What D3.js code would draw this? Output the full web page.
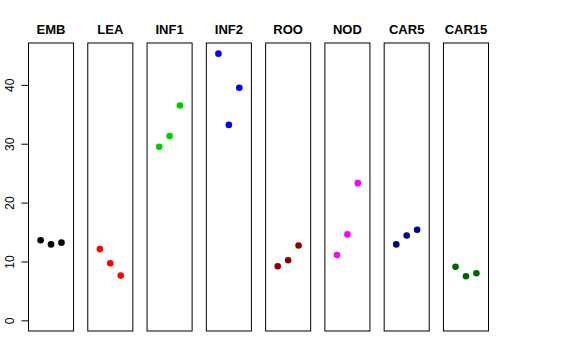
<!DOCTYPE html>
<html>
<head>
<meta charset="utf-8">
<script src="https://cdn.jsdelivr.net/npm/d3@7"></script>
<style>
  body { margin: 0; background: #fff; }
  svg { display: block; font-family: "Liberation Sans", Arial, sans-serif; }
</style>
</head>
<body>
<figure id="chart" style="margin:0"></figure>
<script>
// tissues, one panel each
var tissues = ["EMB", "LEA", "INF1", "INF2", "ROO", "NOD", "CAR5", "CAR15"];
var colors = ["#000000", "#FF0000", "#00CD00", "#0000FF", "#8B0000", "#FF00FF", "#00008B", "#006400"];
// three replicate values per tissue
var rep1 = [13.6, 12.1, 29.5, 45.3, 9.2, 11.1, 12.9, 9.1];
var rep2 = [12.9, 9.7, 31.3, 33.2, 10.2, 14.6, 14.4, 7.5];
var rep3 = [13.2, 7.6, 36.5, 39.5, 12.7, 23.3, 15.4, 8.0];
var yTicks = [0, 10, 20, 30, 40];

var width = 576, height = 360;

var svg = d3.select("figure#chart")
  .append("svg")
  .attr("width", width)
  .attr("height", height);

var panel = d3.scaleBand()
  .domain(tissues)
  .range([28.5, 488.5])
  .paddingInner(0.24)
  .paddingOuter(0);

var ymax = d3.max(rep1.concat(rep2, rep3));
var pad = ymax * 0.04;
var yScale = d3.scaleLinear()
  .domain([-pad, ymax + pad])
  .range([331, 43]);

var xScale = d3.scaleLinear()
  .domain([-0.16, 4.16])
  .range([0, panel.bandwidth()]);

var data = tissues.map(function (t, i) {
  return { tissue: t, color: colors[i], vals: [rep1[i], rep2[i], rep3[i]] };
});

var panels = svg.selectAll("g.panel")
  .data(data)
  .enter()
  .append("g")
  .attr("class", "panel")
  .attr("transform", d => `translate(${panel(d.tissue)},0)`);

panels.append("rect")
  .attr("x", 0)
  .attr("y", yScale(ymax + pad))
  .attr("width", panel.bandwidth())
  .attr("height", yScale(-pad) - yScale(ymax + pad))
  .attr("fill", "none")
  .attr("stroke", "#000")
  .attr("stroke-width", 1);

panels.append("text")
  .attr("x", panel.bandwidth() / 2)
  .attr("y", 34)
  .attr("text-anchor", "middle")
  .style("font-weight", "bold")
  .style("font-size", "13px")
  .text(d => d.tissue);

panels.selectAll("circle")
  .data(d => d.vals.map(v => ({ v: v, color: d.color })))
  .enter()
  .append("circle")
  .attr("cx", (d, i) => xScale(i + 1))
  .attr("cy", d => yScale(d.v))
  .attr("r", 3.3)
  .attr("fill", d => d.color);

// y axis on the left of the first panel
var yAxis = svg.append("g")
  .attr("class", "y axis")
  .attr("transform", `translate(${panel(tissues[0])},0)`)
  .call(d3.axisLeft(yScale).tickValues(yTicks).tickSize(7).tickSizeOuter(0));

yAxis.select(".domain").remove();
yAxis.append("line")
  .attr("y1", yScale(0))
  .attr("y2", yScale(40))
  .attr("stroke", "#000");

yAxis.selectAll("text")
  .attr("transform", "rotate(-90)")
  .attr("x", 0)
  .attr("y", -15)
  .attr("dy", 0)
  .attr("text-anchor", "middle")
  .attr("fill", "#000")
  .style("font-size", "12px")
  .style("font-family", "Liberation Sans, Arial, sans-serif");
yAxis.selectAll(".tick line").attr("stroke", "#000");
</script>
</body>
</html>
